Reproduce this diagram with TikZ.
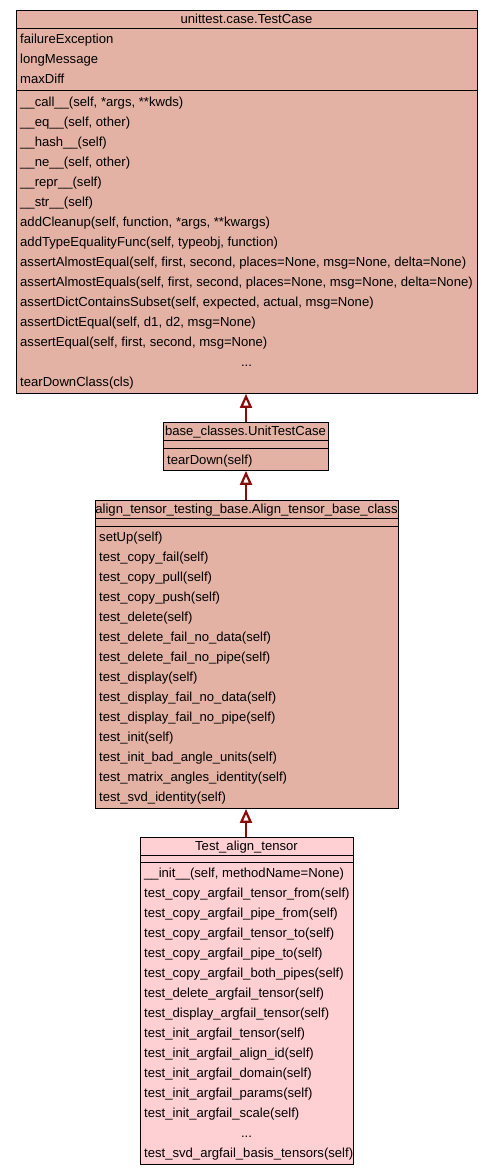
\documentclass[tikz,border=0pt]{standalone}
\usepackage{fontspec}
\setmainfont{Liberation Sans}
\usetikzlibrary{arrows.meta}
\definecolor{clsfill}{RGB}{227,178,164}
\definecolor{leaffill}{RGB}{254,208,212}
\definecolor{inhred}{RGB}{139,10,10}

\begin{document}
\begin{tikzpicture}[x=1pt, y=-1pt, font=\fontsize{13.1}{15}\selectfont,
	cls/.style={draw=black, line width=0.9pt, fill=clsfill, anchor=north west, inner sep=0pt},
	sep/.style={draw=black, line width=0.9pt},
	row/.style={anchor=base west, inner sep=0pt},
	ttl/.style={anchor=base, inner sep=0pt},
	inh/.style={draw=inhred, line width=2pt, -{Triangle[open, length=14pt, width=12pt, line width=2.2pt]}}]
		\useasboundingbox (0,0) rectangle (493,1176);
		% unittest.case.TestCase
		\node[cls, minimum width=461pt, minimum height=383pt] (tc) at (16,10) {};
		\draw[sep] (16,28) -- (477,28);
		\draw[sep] (16,90) -- (477,90);
		\node[ttl] (tc-title) at (246.5,23.5) {unittest.case.TestCase};
		\foreach \a [count=\i] in {failureException,longMessage,maxDiff}{
			\node[row] (tc-a\i) at (20,23+20*\i) {\a};
		}
		\foreach \m [count=\i] in {{\_\_call\_\_(self, *args, **kwds)},{\_\_eq\_\_(self, other)},{\_\_hash\_\_(self)},
			{\_\_ne\_\_(self, other)},{\_\_repr\_\_(self)},{\_\_str\_\_(self)},{addCleanup(self, function, *args, **kwargs)},
			{addTypeEqualityFunc(self, typeobj, function)},{assertAlmostEqual(self, first, second, places=None, msg=None, delta=None)},
			{assertAlmostEquals(self, first, second, places=None, msg=None, delta=None)},
			{assertDictContainsSubset(self, expected, actual, msg=None)},{assertDictEqual(self, d1, d2, msg=None)},
			{assertEqual(self, first, second, msg=None)}}{
			\node[row] (tc-m\i) at (20,86+20*\i) {\m};
		}
		\node[ttl] (tc-dots) at (246.5,366) {...};
		\node[row] (tc-last) at (20,386) {tearDownClass(cls)};
		
		% base_classes.UnitTestCase
		\node[cls, minimum width=165pt, minimum height=48pt] (utc) at (163,422) {};
		\draw[sep] (163,440) -- (328,440);
		\draw[sep] (163,448) -- (328,448);
		\node[ttl] (utc-title) at (245.5,435.5) {base\_classes.UnitTestCase};
		\node[row] (utc-m1) at (167,464) {tearDown(self)};
		
		% align_tensor_testing_base.Align_tensor_base_class
		\node[cls, minimum width=303pt, minimum height=308pt] (atb) at (95,500) {};
		\draw[sep] (95,518) -- (398,518);
		\draw[sep] (95,526) -- (398,526);
		\node[ttl] (atb-title) at (246.5,513.5) {align\_tensor\_testing\_base.Align\_tensor\_base\_class};
		\foreach \m [count=\i] in {setUp,test\_copy\_fail,test\_copy\_pull,test\_copy\_push,test\_delete,
			test\_delete\_fail\_no\_data,test\_delete\_fail\_no\_pipe,test\_display,test\_display\_fail\_no\_data,
			test\_display\_fail\_no\_pipe,test\_init,test\_init\_bad\_angle\_units,test\_matrix\_angles\_identity,
			test\_svd\_identity}{
			\node[row] (atb-m\i) at (99,521+20*\i) {\m(self)};
		}
		
		% Test_align_tensor
		\node[cls, fill=leaffill, minimum width=213pt, minimum height=327pt] (tat) at (140,837) {};
		\draw[sep] (140,855) -- (353,855);
		\draw[sep] (140,862) -- (353,862);
		\node[ttl] (tat-title) at (246.5,850.5) {Test\_align\_tensor};
		\node[row] (tat-m1) at (144,877) {\_\_init\_\_(self, methodName=None)};
		\foreach \m [count=\i from 2] in {test\_copy\_argfail\_tensor\_from,test\_copy\_argfail\_pipe\_from,
			test\_copy\_argfail\_tensor\_to,test\_copy\_argfail\_pipe\_to,test\_copy\_argfail\_both\_pipes,
			test\_delete\_argfail\_tensor,test\_display\_argfail\_tensor,test\_init\_argfail\_tensor,
			test\_init\_argfail\_align\_id,test\_init\_argfail\_domain,test\_init\_argfail\_params,
			test\_init\_argfail\_scale}{
			\node[row] (tat-m\i) at (144,857+20*\i) {\m(self)};
		}
		\node[ttl] (tat-dots) at (246.5,1137) {...};
		\node[row] (tat-last) at (144,1157) {test\_svd\_argfail\_basis\_tensors(self)};
		
		% inheritance
		\draw[inh] (utc.north -| 246,0) -- (tc.south -| 246,0);
		\draw[inh] (atb.north -| 246,0) -- (utc.south -| 246,0);
		\draw[inh] (tat.north -| 246,0) -- (atb.south -| 246,0);
	\end{tikzpicture}
\end{document}
